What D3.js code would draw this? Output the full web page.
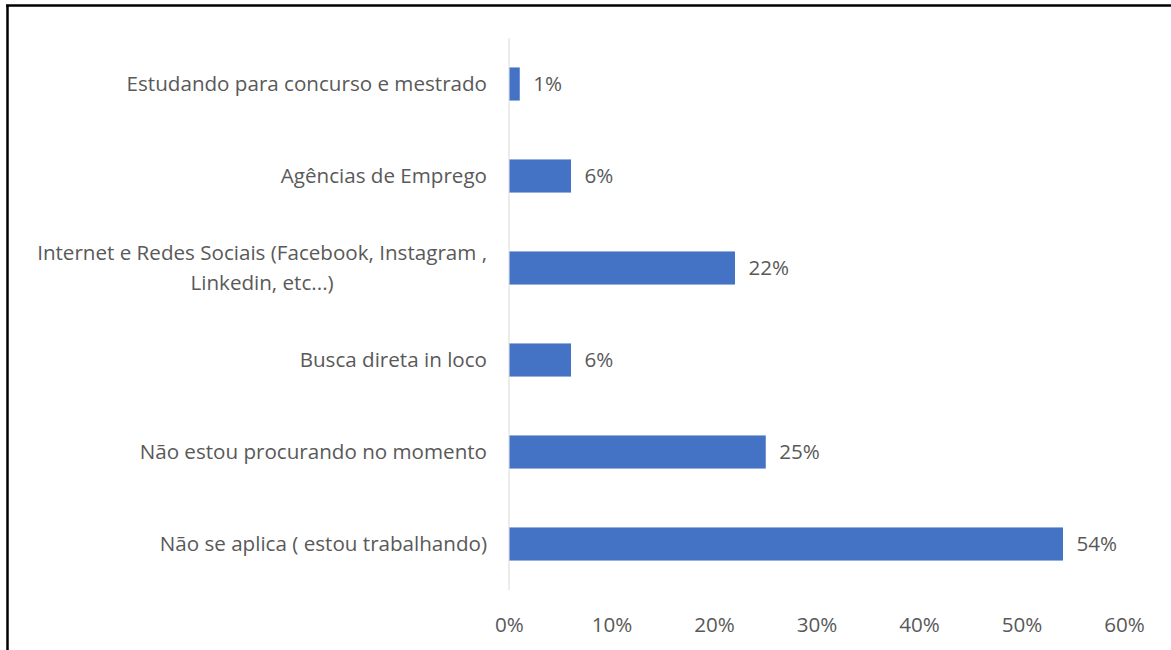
<!DOCTYPE html>
<html>
<head>
<meta charset="utf-8">
<script src="https://cdn.jsdelivr.net/npm/d3@7"></script>
<style>
  html, body { margin: 0; padding: 0; background: #fff; }
  svg { display: block; }
  text { font-family: "Open Sans", Lato, sans-serif; fill: #595959; }
</style>
</head>
<body>
<svg id="chart" width="1171" height="650"></svg>
<script>
// Categories top to bottom, each as one or more text lines
const categories = [
  ["Estudando para concurso e mestrado"],
  ["Agências de Emprego"],
  ["Internet e Redes Sociais (Facebook, Instagram ,", "Linkedin, etc...)"],
  ["Busca direta in loco"],
  ["Não estou procurando no momento"],
  ["Não se aplica ( estou trabalhando)"]
];
const values = [0.01, 0.06, 0.22, 0.06, 0.25, 0.54];
const tickValues = [0, 0.1, 0.2, 0.3, 0.4, 0.5, 0.6];

const svg = d3.select("#chart");
const W = 1171, H = 650;
const margin = { top: 38, left: 509, right: 47, bottom: 60 };
const fontSize = 20.6;

// Frame lines (left and top edges)
svg.append("line").attr("x1", 7.5).attr("x2", 7.5).attr("y1", 5).attr("y2", H)
  .attr("stroke", "#000").attr("stroke-width", 2.5);
svg.append("line").attr("x1", 6).attr("x2", W).attr("y1", 5.5).attr("y2", 5.5)
  .attr("stroke", "#000").attr("stroke-width", 2.5);

const x = d3.scaleLinear().domain([0, 0.6]).range([margin.left, W - margin.right]);
const y = d3.scaleBand().domain(d3.range(categories.length))
  .range([margin.top, H - margin.bottom]).paddingInner(0.64).paddingOuter(0.32);

// Vertical category axis line
svg.append("line")
  .attr("x1", x(0)).attr("x2", x(0))
  .attr("y1", margin.top).attr("y2", H - margin.bottom)
  .attr("stroke", "#d9d9d9").attr("stroke-width", 1);

// Bars
svg.append("g").selectAll("rect").data(values).join("rect")
  .attr("x", x(0) + 0.5)
  .attr("y", (d, i) => y(i))
  .attr("width", d => x(d) - x(0))
  .attr("height", y.bandwidth())
  .attr("fill", "#4472c4");

// Value labels
const fmt = d3.format(".0%");
svg.append("g").selectAll("text").data(values).join("text")
  .attr("x", d => x(d) + 14)
  .attr("y", (d, i) => y(i) + y.bandwidth() / 2)
  .attr("dy", "0.35em")
  .attr("font-size", fontSize)
  .text(d => fmt(d));

// Category labels (multi-line labels are centred on their own widest line)
const labelRight = x(0) - 22;
const lineH = 30;
categories.forEach((lines, i) => {
  const cy = y(i) + y.bandwidth() / 2;
  const t = svg.append("text")
    .attr("font-size", fontSize)
    .attr("text-anchor", lines.length > 1 ? "middle" : "end");
  if (lines.length === 1) {
    t.attr("x", labelRight).attr("y", cy).attr("dy", "0.35em").text(lines[0]);
  } else {
    // measure widest line to centre the block at its right edge
    const tmp = svg.append("text").attr("font-size", fontSize).text(lines[0]);
    const w = tmp.node().getComputedTextLength();
    tmp.remove();
    const cx = labelRight - w / 2;
    lines.forEach((ln, k) => {
      t.append("tspan")
        .attr("x", cx)
        .attr("y", cy + (k - (lines.length - 1) / 2) * lineH)
        .attr("dy", "0.35em")
        .text(ln);
    });
  }
});

// Value axis tick labels (no line, no ticks)
const xAxis = d3.axisBottom(x).tickValues(tickValues).tickFormat(fmt).tickSize(0).tickPadding(0);
const gx = svg.append("g").attr("transform", `translate(0, ${H - margin.bottom + 35})`).call(xAxis);
gx.select(".domain").remove();
gx.selectAll("text")
  .attr("font-size", fontSize)
  .attr("font-family", null)
  .attr("fill", "#595959")
  .attr("dy", "0.35em")
  .attr("y", 0);
</script>
</body>
</html>
